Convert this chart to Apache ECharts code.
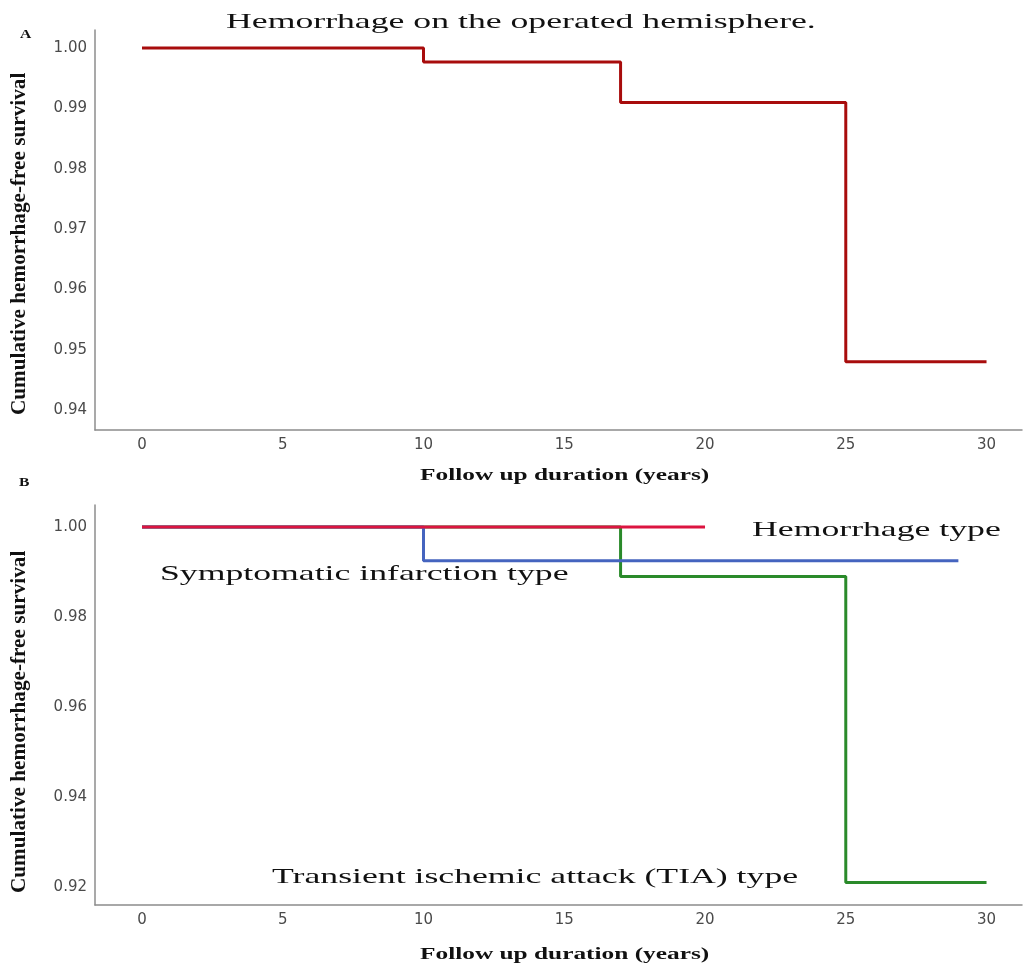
<!DOCTYPE html>
<html><head><meta charset="utf-8">
<script src="https://cdn.jsdelivr.net/npm/echarts@6/dist/echarts.min.js"></script>
<style>html,body{margin:0;padding:0;background:#fff}#c{width:1024px;height:967px}</style>
</head><body><div id="c"></div>
<script>
// Panel A: hemorrhage on the operated hemisphere
const topTimes = [0, 10, 17, 25, 30];
const topSurv = [1.000, 0.9977, 0.9910, 0.9480, 0.9480];
// Panel B: by presentation type
const hemTimes = [0, 20];
const hemSurv = [1.000, 1.000];
const symTimes = [0, 10, 29];
const symSurv = [1.000, 0.9925, 0.9925];
const tiaTimes = [0, 17, 25, 30];
const tiaSurv = [1.000, 0.989, 0.921, 0.921];
// Tick labels
const xTicks = [0, 5, 10, 15, 20, 25, 30];
const yTicksTop = [0.94, 0.95, 0.96, 0.97, 0.98, 0.99, 1.00];
const yTicksBottom = [0.92, 0.94, 0.96, 0.98, 1.00];
// Texts
const titleA = 'Hemorrhage on the operated hemisphere.';
const xTitle = 'Follow up duration (years)';
const yTitle = 'Cumulative hemorrhage-free survival';
const labHem = 'Hemorrhage type';
const labSym = 'Symptomatic infarction type';
const labTia = 'Transient ischemic attack (TIA) type';

const pairs = (xs, ys) => xs.map((x, i) => [x, ys[i]]);
const chart = echarts.init(document.getElementById('c'), null, {renderer: 'canvas'});
const axisLine = {show: true, onZero: false, lineStyle: {color: '#8c8c8c', width: 1.5}};
const tickLabel = {color: '#4a4a4a', fontFamily: 'DejaVu Sans', fontSize: 15};
function xAxis(gi) {
  return {type: 'value', gridIndex: gi, min: -1.67, max: 31.26,
    axisLine, axisTick: {show: false}, splitLine: {show: false},
    axisLabel: Object.assign({}, tickLabel, {customValues: xTicks, margin: 8})};
}
function yAxis(gi, min, max, ticks) {
  return {type: 'value', gridIndex: gi, min, max,
    axisLine, axisTick: {show: false}, splitLine: {show: false},
    axisLabel: Object.assign({}, tickLabel, {customValues: ticks, margin: 8,
      formatter: v => v.toFixed(2)})};
}
const serif = 'Liberation Serif';
function txt(x, y, text, size, weight, sx, opts) {
  return Object.assign({type: 'text', x, y, scaleX: sx || 1,
    style: {text, fontFamily: serif, fontSize: size, fontWeight: weight || 'normal', fill: '#111',
      textAlign: 'left', textVerticalAlign: 'middle'}}, opts || {});
}
chart.setOption({
  animation: false,
  grid: [
    {left: 95, top: 30, width: 927, height: 400},
    {left: 95, top: 505, width: 927, height: 400}
  ],
  xAxis: [xAxis(0), xAxis(1)],
  yAxis: [yAxis(0, 0.9367, 1.003, yTicksTop), yAxis(1, 0.916, 1.0049, yTicksBottom)],
  series: [
    {type: 'line', xAxisIndex: 0, yAxisIndex: 0, step: 'end', symbol: 'none',
      data: pairs(topTimes, topSurv), lineStyle: {color: '#a80c0c', width: 3}},
    {type: 'line', xAxisIndex: 1, yAxisIndex: 1, step: 'end', symbol: 'none',
      data: pairs(tiaTimes, tiaSurv), lineStyle: {color: '#2a8a2a', width: 3}},
    {type: 'line', xAxisIndex: 1, yAxisIndex: 1, step: 'end', symbol: 'none',
      data: pairs(symTimes, symSurv), lineStyle: {color: '#4564bf', width: 3}},
    {type: 'line', xAxisIndex: 1, yAxisIndex: 1, step: 'end', symbol: 'none',
      data: pairs(hemTimes, hemSurv), lineStyle: {color: '#dc1440', width: 3}}
  ],
  graphic: [
    txt(226, 22, titleA, 21, 'normal', 1.7),
    txt(20, 35, 'A', 12, 'bold', 1.3),
    txt(19, 483, 'B', 12, 'bold', 1.3),
    txt(420, 476, xTitle, 17, 'bold', 1.49),
    txt(420, 955, xTitle, 17, 'bold', 1.49),
    txt(20, 415, yTitle, 20, 'bold', 1.06, {rotation: Math.PI / 2}),
    txt(20, 893, yTitle, 20, 'bold', 1.06, {rotation: Math.PI / 2}),
    txt(752, 530, labHem, 21, 'normal', 1.7),
    txt(160, 574, labSym, 21, 'normal', 1.7),
    txt(272, 877, labTia, 21, 'normal', 1.7)
  ]
});
</script></body></html>
